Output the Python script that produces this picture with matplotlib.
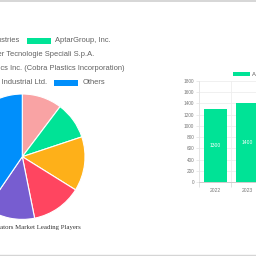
import matplotlib
matplotlib.use("Agg")
import matplotlib.pyplot as plt
from matplotlib.patches import Rectangle
from matplotlib.lines import Line2D

# ---- data ----
pie_labels = ["Lindal Industries", "AptarGroup, Inc.", "Coster Tecnologie Speciali S.p.A.",
              "Cobra Plastics Inc. (Cobra Plastics Incorporation)", "Zhejiang Jinsheng Industrial Ltd.", "Others"]
pie_values = [10.3, 9.6, 14.0, 13.0, 12.7, 40.5]
pie_colors = ["#F9A3A4", "#00E396", "#FEB019", "#FF4560", "#775DD0", "#008FFB"]
pie_title = "Aerosol Actuators Market Leading Players"

bar_years = ["2022", "2023"]
bar_values = [1300, 1400]
bar_series = "Aerosol Actuators Market Size"
bar_color = "#00E396"
y_ticks = [0, 200, 400, 600, 800, 1000, 1200, 1400, 1600, 1800]

W = H = 256
fig = plt.figure(figsize=(2.56, 2.56), dpi=100)
fig.patch.set_facecolor("white")

def fx(px):
    return px / W

def fy(py):
    return 1 - py / H

# border lines
fig.add_artist(Line2D([0, 1], [fy(0.5), fy(0.5)], color="#cfcfcf", lw=1.2))
fig.add_artist(Line2D([0, 1], [fy(254.8), fy(254.8)], color="#d5d5d5", lw=1.0))

# ---- pie ----
cx, cy, r = 22.3, 156.7, 62.7
axp = fig.add_axes([fx(cx - r), fy(cy + r), 2 * r / W, 2 * r / H])
axp.pie(pie_values, colors=pie_colors, startangle=90, counterclock=False,
        wedgeprops=dict(edgecolor="white", linewidth=0.8))
axp.set_xlim(-1, 1)
axp.set_ylim(-1, 1)
axp.set_aspect("equal")
axp.axis("off")

fig.text(fx(cx), fy(228), pie_title, ha="center", va="center",
         fontsize=4.9, family="Liberation Serif", color="#333333")

# ---- pie legend (manual) ----
lfs = 5.4
lcol = "#606060"
bw, bh = 24, 5.4

def box(x0, yc, color):
    fig.add_artist(Rectangle((fx(x0), fy(yc + bh / 2)), bw / W, bh / H,
                             transform=fig.transFigure, facecolor=color, edgecolor="none"))

def txt(x, yc, s, ha):
    fig.text(fx(x), fy(yc), s, ha=ha, va="center", fontsize=lfs,
             family="Liberation Sans", color=lcol)

# row 1
txt(19.5, 41, pie_labels[0], "right")
box(27, 41, pie_colors[1])
txt(55, 41, pie_labels[1], "left")
# row 2
txt(94.5, 55, pie_labels[2], "right")
# row 3
txt(124.5, 69, pie_labels[3], "right")
# row 4
txt(47.5, 83, pie_labels[4], "right")
box(54, 83, pie_colors[5])
txt(83, 83, pie_labels[5], "left")

# ---- bar chart ----
ax_left, ax_bottom_px, ax_top_px = 199.3, 182.0, 81.0
cat_w = 32.0
axb = fig.add_axes([fx(ax_left), fy(ax_bottom_px), cat_w * len(bar_years) / W,
                    (ax_bottom_px - ax_top_px) / H])
xs = list(range(len(bar_years)))
bars = axb.bar(xs, bar_values, width=0.71, color=bar_color, zorder=3)
axb.set_xlim(-0.5, len(bar_years) - 0.5)
axb.set_ylim(0, 1800)
axb.set_yticks(y_ticks)
axb.set_yticklabels([str(v) for v in y_ticks], fontsize=3.4, color="#777777",
                    family="Liberation Sans")
axb.set_xticks(xs)
axb.set_xticklabels(bar_years, fontsize=3.6, color="#777777", family="Liberation Sans")
axb.set_xticks([x + 0.5 for x in [-1] + xs], minor=True)
axb.tick_params(axis="x", which="major", length=0, pad=4)
axb.tick_params(axis="x", which="minor", length=3.5, color="#dddddd", width=0.6)
axb.tick_params(axis="y", length=2.5, color="#e6e6e6", width=0.6, pad=1.2)
axb.grid(axis="y", color="#eeeeee", lw=0.6, zorder=0)
axb.grid(axis="x", which="minor", color="#eeeeee", lw=0.6, zorder=0)
for s in ["top", "right"]:
    axb.spines[s].set_visible(False)
axb.spines["left"].set_color("#e3e3e3")
axb.spines["left"].set_linewidth(0.6)
axb.spines["bottom"].set_color("#cccccc")
axb.spines["bottom"].set_linewidth(0.7)
for b, v in zip(bars, bar_values):
    axb.text(b.get_x() + b.get_width() / 2, v / 2, str(v), ha="center", va="center",
             fontsize=3.6, color="white", family="Liberation Sans", zorder=4)

# bar legend
fig.add_artist(Rectangle((fx(232.7), fy(76.3)), 17.3 / W, 4 / H,
                         transform=fig.transFigure, facecolor=bar_color, edgecolor="none"))
fig.text(fx(252), fy(74.3), bar_series, ha="left", va="center", fontsize=4.2,
         family="Liberation Sans", color=lcol)

fig.savefig("out.png", dpi=100)
